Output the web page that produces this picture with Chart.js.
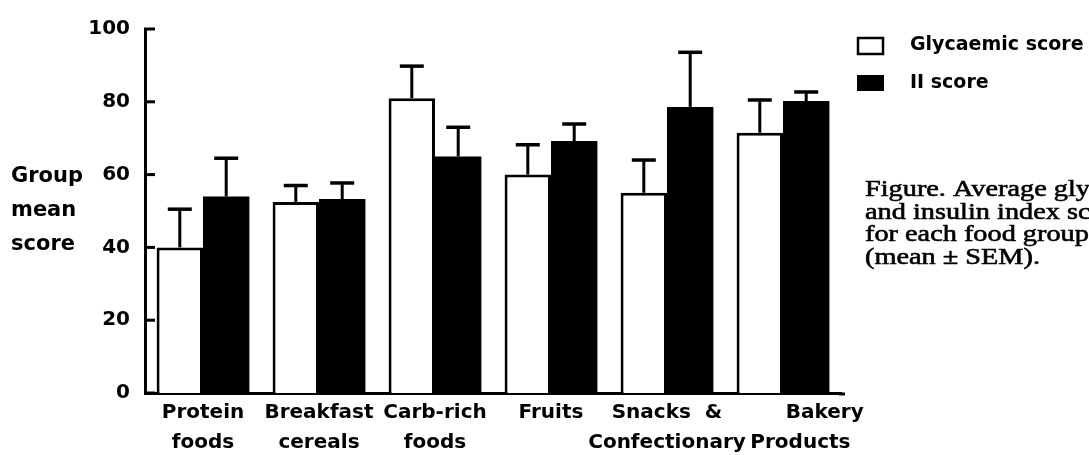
<!DOCTYPE html>
<html>
<head>
<meta charset="utf-8">
<script src="https://cdn.jsdelivr.net/npm/chart.js@4"></script>
<style>
  body { margin: 0; background: #fff; }
  #wrap { width: 1089px; height: 455px; }
</style>
</head>
<body>
<div id="wrap"><canvas id="foodChart" width="1089" height="455"></canvas></div>
<script>
// food groups (two-line labels)
const categories = [
    ["Protein", "foods"],
    ["Breakfast", "cereals"],
    ["Carb-rich", "foods"],
    ["Fruits"],
    ["Snacks  &", "Confectionary"],
    ["            Bakery", "     Products"],
];
const glycaemicScore = [40, 52.5, 81, 60, 55, 71.5];
const glycaemicSem = [10.5, 4.5, 8.8, 8.2, 9, 9];
const iiScore = [54, 53.3, 65, 69.2, 78.6, 80.2];
const iiSem = [10.5, 4.4, 8, 4.7, 15, 2.5];
const yTicks = [0, 20, 40, 60, 80, 100];
const yTitle = ["Group", "mean", "score"];
const caption = ["Figure. Average glycaemic", "and insulin index scores", "for each food group", "(mean \u00b1 SEM)."];

const sans = "'DejaVu Sans', sans-serif";

// error bars, inward ticks, y title, legend and caption
const extrasPlugin = {
    id: "extras",
    afterDatasetsDraw(chart) {
        const ctx = chart.ctx;
        const y = chart.scales.y;
        const sems = [glycaemicSem, iiSem];
        ctx.save();
        ctx.strokeStyle = "#000";
        chart.data.datasets.forEach(function (ds, di) {
            const meta = chart.getDatasetMeta(di);
            meta.data.forEach(function (bar, i) {
                const top = y.getPixelForValue(ds.data[i] + sems[di][i]);
                ctx.lineWidth = 3;
                ctx.beginPath();
                ctx.moveTo(bar.x, bar.y);
                ctx.lineTo(bar.x, top);
                ctx.stroke();
                ctx.lineWidth = 3.5;
                ctx.beginPath();
                ctx.moveTo(bar.x - 12, top);
                ctx.lineTo(bar.x + 12, top);
                ctx.stroke();
            });
        });
        ctx.restore();
    },
    afterDraw(chart) {
        const ctx = chart.ctx;
        const y = chart.scales.y;
        const left = chart.chartArea.left;
        ctx.save();
        // inward tick marks
        ctx.strokeStyle = "#000";
        ctx.lineWidth = 3;
        yTicks.forEach(function (v) {
            const py = y.getPixelForValue(v);
            ctx.beginPath();
            ctx.moveTo(left - 1, py);
            ctx.lineTo(left + 10, py);
            ctx.stroke();
        });
        // x axis runs a little past the last group
        ctx.beginPath();
        ctx.moveTo(chart.chartArea.right - 2, chart.chartArea.bottom + 1);
        ctx.lineTo(chart.chartArea.right + 4, chart.chartArea.bottom + 1);
        ctx.stroke();

        // y axis title
        ctx.fillStyle = "#000";
        ctx.font = "bold 21px " + sans;
        ctx.textAlign = "left";
        ctx.textBaseline = "middle";
        yTitle.forEach(function (t, i) {
            ctx.fillText(t, 11, 177 + i * 34);
        });

        // legend
        ctx.lineWidth = 2.5;
        ctx.fillStyle = "#fff";
        ctx.fillRect(858, 38, 25, 16);
        ctx.strokeRect(858, 38, 25, 16);
        ctx.fillStyle = "#000";
        ctx.fillRect(857, 75, 27, 16);
        ctx.font = "bold 19px " + sans;
        ctx.fillText(chart.data.datasets[0].label, 910, 45);
        ctx.fillText(chart.data.datasets[1].label, 910, 83);

        // caption (stretched serif, like the scan)
        ctx.font = "23px 'Liberation Serif', serif";
        ctx.textBaseline = "alphabetic";
        ctx.lineWidth = 0.6;
        caption.forEach(function (t, i) {
            ctx.save();
            ctx.translate(865, 196 + i * 22.5);
            ctx.scale(1.23, 1);
            ctx.fillText(t, 0, 0);
            ctx.strokeText(t, 0, 0);
            ctx.restore();
        });
        ctx.restore();
    },
};

const ctxBar = document.getElementById("foodChart").getContext("2d");
new Chart(ctxBar, {
    type: "bar",
    data: {
        labels: categories,
        datasets: [
            {
                label: "Glycaemic score",
                data: glycaemicScore,
                backgroundColor: "#fff",
                borderColor: "#000",
                borderWidth: 3,
                categoryPercentage: 0.8,
                barPercentage: 1.0,
            },
            {
                label: "II score",
                data: iiScore,
                backgroundColor: "#000",
                borderColor: "#000",
                borderWidth: 0,
                categoryPercentage: 0.8,
                barPercentage: 1.0,
            },
        ],
    },
    options: {
        responsive: false,
        animation: false,
        layout: {
            padding: { left: 0, top: 29, right: 248, bottom: 0 },
        },
        scales: {
            x: {
                grid: { display: false, drawTicks: false },
                border: { display: true, color: "#000", width: 3 },
                ticks: {
                    color: "#000",
                    font: { family: sans, size: 20, weight: "bold", lineHeight: 1.5 },
                    padding: 5,
                    maxRotation: 0,
                    autoSkip: false,
                },
                afterFit: function (scale) {
                    scale.height = 62;
                },
            },
            y: {
                min: 0,
                max: 100,
                grid: { display: false, drawTicks: false },
                border: { display: true, color: "#000", width: 3 },
                ticks: {
                    stepSize: 20,
                    color: "#000",
                    font: { family: sans, size: 20, weight: "bold" },
                    padding: 15,
                },
                afterFit: function (scale) {
                    scale.width = 145;
                },
            },
        },
        plugins: {
            legend: { display: false },
            tooltip: { enabled: false },
        },
    },
    plugins: [extrasPlugin],
});
</script>
</body>
</html>
